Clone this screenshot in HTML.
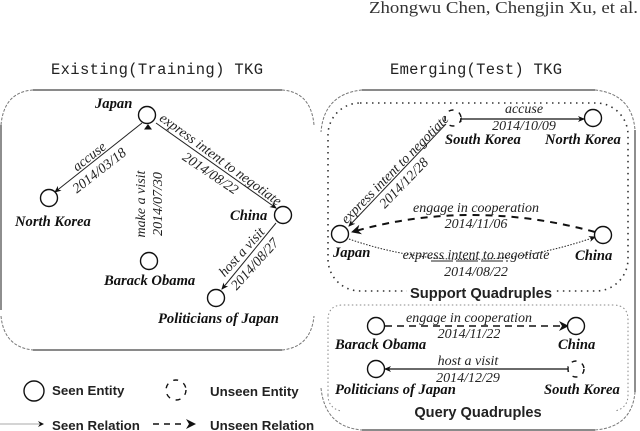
<!DOCTYPE html>
<html><head><meta charset="utf-8"><style>
html,body{margin:0;padding:0;background:#fff}
svg{display:block}
.s{font-family:"Liberation Serif",serif;font-style:italic;fill:#222}
.l{font-size:14px}
.d{font-size:14px}
.n{font-family:"Liberation Serif",serif;font-style:italic;font-weight:bold;font-size:14.6px;fill:#111}
.b{font-family:"Liberation Sans",sans-serif;font-weight:bold;fill:#222}
.m{font-family:"Liberation Mono",monospace;font-size:15.5px;fill:#222}
circle{fill:#fff;stroke:#111;stroke-width:1.4}
.u{stroke-dasharray:5 6}
.e{stroke:#222;stroke-width:1;fill:none}
.bl{fill:none;stroke:#444;stroke-width:1.2}
.co{fill:none;stroke:#777;stroke-width:1;stroke-dasharray:3 1.5}
</style></head><body>
<svg width="640" height="431" viewBox="0 0 640 431" xmlns="http://www.w3.org/2000/svg">
<defs>
<marker id="a" markerWidth="8" markerHeight="8" refX="6" refY="3" orient="auto" markerUnits="userSpaceOnUse"><path d="M0 0L7 3L0 6L2 3Z" fill="#111"/></marker>
<marker id="A" markerWidth="12" markerHeight="12" refX="9" refY="5" orient="auto" markerUnits="userSpaceOnUse"><path d="M0 0L10 5L0 10L3 5Z" fill="#111"/></marker>
</defs>
<text x="369" y="13" textLength="269" lengthAdjust="spacingAndGlyphs" font-family="Liberation Serif,serif" font-size="17" fill="#333">Zhongwu Chen, Chengjin Xu, et al.</text>
<text class="m" x="51" y="74" textLength="212">Existing(Training) TKG</text>
<text class="m" x="390" y="74" textLength="172">Emerging(Test) TKG</text>

<!-- left frame -->
<path class="bl" d="M33 90H282M33 350H282M1 125V310"/>
<path class="co" d="M33 90Q4 92 1 125M282 90Q311 92 314 125M1 316Q4 347 33 350M282 350Q311 347 314 316"/>
<!-- right frame -->
<path class="bl" d="M362 90H595M362 430H595M635 130V392"/>
<path class="co" d="M362 90Q324 94 321 132M595 90Q632 94 635 130M321 388Q325 427 362 430M595 430Q632 427 635 392"/>
<rect x="328" y="103" width="300" height="188" rx="32" fill="none" stroke="#333" stroke-width="1.6" stroke-dasharray="1.5 4.5"/>
<path d="M328 395V320Q328 305 343 305H613Q628 305 628 320V395Q628 408 615 411" fill="none" stroke="#888" stroke-width="1" stroke-dasharray="1.5 2.5"/>
<path d="M328 395Q328 408 341 411" fill="none" stroke="#888" stroke-width="1" stroke-dasharray="1.5 2.5"/>
<rect x="407" y="284" width="148" height="18" fill="#fff"/>

<!-- left edges -->
<path class="e" d="M142 123L55 192" marker-end="url(#a)"/>
<path class="e" d="M156 123L276 208" marker-end="url(#a)"/>
<path class="e" d="M276 223L222 289" marker-end="url(#a)"/>
<circle cx="147" cy="115" r="8.5"/>
<path d="M148 124L144 129.5L152 129.5Z" fill="#111"/>
<circle cx="49" cy="198" r="8.5"/>
<circle cx="283" cy="215" r="8.5"/>
<circle cx="149" cy="261" r="8.5"/>
<circle cx="216" cy="298" r="8.5"/>
<text class="n" x="95" y="108">Japan</text>
<text class="n" x="15" y="226">North Korea</text>
<text class="n" x="230" y="220">China</text>
<text class="n" x="104" y="285">Barack Obama</text>
<text class="n" x="158" y="323">Politicians of Japan</text>

<g class="s">
<text class="l" text-anchor="middle" transform="translate(92,160) rotate(-38)">accuse</text>
<text class="d" text-anchor="middle" transform="translate(102,174) rotate(-38)">2014/03/18</text>
<text class="l" text-anchor="middle" transform="translate(218,163) rotate(36)">express intent to negotiate</text>
<text class="d" text-anchor="middle" transform="translate(208,177) rotate(34)">2014/08/22</text>
<text class="l" text-anchor="middle" transform="translate(145,204) rotate(-90)">make a visit</text>
<text class="d" text-anchor="middle" transform="translate(162,204) rotate(-90)">2014/07/30</text>
<text class="l" text-anchor="middle" transform="translate(245,255) rotate(-48)">host a visit</text>
<text class="d" text-anchor="middle" transform="translate(258,267) rotate(-48)">2014/08/27</text>
</g>

<!-- support -->
<path d="M461 119H584" stroke="#111" stroke-width="1.2" fill="none" marker-end="url(#a)"/>
<path d="M461 116V122" stroke="#111" fill="none"/>
<path d="M446 124L349 226" stroke="#222" stroke-width="1" fill="none" marker-end="url(#a)"/>
<path d="M595 232Q470 198 352 232" stroke="#111" stroke-width="2" stroke-dasharray="7 6" fill="none" marker-end="url(#A)"/>
<path d="M349 239Q470 281 595 237" stroke="#222" stroke-width="1" stroke-dasharray="1.5 1.5" fill="none" marker-end="url(#a)"/>
<path d="M431 261H508" stroke="#222" stroke-width="1" stroke-dasharray="22 3" fill="none"/>
<circle class="u" cx="453" cy="118" r="8"/>
<circle cx="593" cy="118" r="8.5"/>
<circle cx="340" cy="234" r="8.5"/>
<circle cx="603" cy="235" r="8.5"/>
<text class="n" x="445" y="144">South Korea</text>
<text class="n" x="545" y="144">North Korea</text>
<text class="n" x="333" y="257">Japan</text>
<text class="n" x="575" y="260">China</text>
<g class="s">
<text class="l" x="524" y="113" text-anchor="middle">accuse</text>
<text class="d" x="524" y="130" text-anchor="middle">2014/10/09</text>
<text class="l" text-anchor="middle" transform="translate(398,172) rotate(-45.5)">express intent to negotiate</text>
<text class="d" text-anchor="middle" transform="translate(407,186) rotate(-46)">2014/12/28</text>
<text class="l" x="476" y="212" text-anchor="middle">engage in cooperation</text>
<text class="d" x="476" y="228" text-anchor="middle">2014/11/06</text>
<text class="l" x="476" y="259" text-anchor="middle">express intent to negotiate</text>
<text class="d" x="476" y="276" text-anchor="middle">2014/08/22</text>
</g>
<text class="b" x="481" y="298" font-size="14.7" text-anchor="middle">Support Quadruples</text>

<!-- query -->
<path d="M385 326H568" stroke="#111" stroke-width="1.6" stroke-dasharray="7 5" fill="none" marker-end="url(#A)"/>
<path d="M568 369H385" stroke="#111" stroke-width="1.2" fill="none" marker-end="url(#a)"/>
<path d="M568 366V372" stroke="#111" fill="none"/>
<circle cx="376" cy="326" r="8.5"/>
<circle cx="576" cy="326" r="8.5"/>
<circle cx="376" cy="369" r="8.5"/>
<circle class="u" cx="576" cy="369" r="8"/>
<text class="n" x="335" y="349">Barack Obama</text>
<text class="n" x="558" y="349">China</text>
<text class="n" x="335" y="394">Politicians of Japan</text>
<text class="n" x="544" y="394">South Korea</text>
<g class="s">
<text class="l" x="469" y="322" text-anchor="middle">engage in cooperation</text>
<text class="d" x="469" y="338" text-anchor="middle">2014/11/22</text>
<text class="l" x="468" y="365" text-anchor="middle">host a visit</text>
<text class="d" x="468" y="382" text-anchor="middle">2014/12/29</text>
</g>
<text class="b" x="478" y="417" font-size="14.6" text-anchor="middle">Query Quadruples</text>

<!-- legend -->
<circle cx="34" cy="391" r="10"/>
<circle class="u" cx="176" cy="390" r="10"/>
<text class="b" x="52" y="395" font-size="13.3">Seen Entity</text>
<text class="b" x="210" y="396" font-size="13.3">Unseen Entity</text>
<path d="M0 424H40" stroke="#aaa" stroke-width="1" fill="none"/>
<path d="M38 421L44 424L38 427L40 424Z" fill="#111"/>
<path d="M153 424H184" stroke="#111" stroke-width="1.6" stroke-dasharray="6 5" fill="none"/>
<path d="M186 419L196 424L186 429L189 424Z" fill="#111"/>
<text class="b" x="52" y="430" font-size="13.3">Seen Relation</text>
<text class="b" x="210" y="430" font-size="13.3">Unseen Relation</text>
</svg>
</body></html>
